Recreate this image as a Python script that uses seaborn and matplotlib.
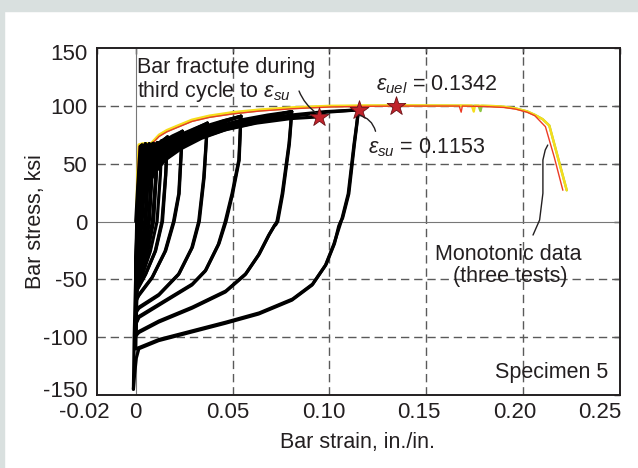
import numpy as np
import pandas as pd
import matplotlib
matplotlib.use("Agg")
import matplotlib.pyplot as plt
from matplotlib.patches import Rectangle
from matplotlib.transforms import ScaledTranslation
import seaborn as sns

# ---------------- data ----------------
# Monotonic tension tests (three tests)
mono1_strain = [0.0003, 0.0010, 0.0017, 0.0035, 0.0080, 0.0120, 0.0160, 0.0210, 0.0290, 0.0380, 0.0500,
                0.0640, 0.0810, 0.1000, 0.1200, 0.1400, 0.1600, 0.1670, 0.1680, 0.1686, 0.1800, 0.1900,
                0.1960, 0.2020, 0.2060, 0.2115, 0.2160, 0.2205]
mono1_stress = [0, 38, 65, 66.5, 66.5, 73.5, 77.5, 81, 86.5, 90, 93, 95.5, 97.5, 99, 99.6, 99.8, 99.8, 99.8,
                94.5, 99.8, 99.4, 98.6, 97.2, 94.5, 91.5, 82, 56, 27]
mono2_strain = [0.0004, 0.0011, 0.0018, 0.0035, 0.0080, 0.0120, 0.0160, 0.0210, 0.0290, 0.0380, 0.0500,
                0.0640, 0.0810, 0.1000, 0.1200, 0.1400, 0.1600, 0.1770, 0.1780, 0.1786, 0.1850, 0.1900,
                0.1960, 0.2020, 0.2060, 0.2100, 0.2135, 0.2180, 0.2225]
mono2_stress = [0, 38, 65.5, 67, 67, 74, 78, 81.5, 87, 90.5, 93.5, 96, 98, 99.5, 100, 100.2, 100.1, 100,
                95.5, 100, 99.7, 99.2, 97.8, 95.2, 92.2, 88.5, 83, 55, 27]
mono3_strain = [0.0002, 0.0008, 0.0015, 0.0035, 0.0080, 0.0120, 0.0160, 0.0210, 0.0290, 0.0380, 0.0500,
                0.0640, 0.0810, 0.1000, 0.1200, 0.1400, 0.1600, 0.1735, 0.1745, 0.1751, 0.1850, 0.1900,
                0.1960, 0.2020, 0.2060, 0.2100, 0.2135, 0.2180, 0.2225]
mono3_stress = [0, 40, 66.5, 67.5, 67.8, 75, 79, 82.5, 88, 91.5, 94.5, 96.8, 98.7, 100, 100.3, 100.4, 100.3,
                100.2, 95, 100.2, 99.8, 99.2, 97.8, 95.2, 92.2, 88.5, 83, 55, 27]

# Cyclic test (Specimen 5) - first loading
load0_strain = [0.0000, 0.0012, 0.0023, 0.0032]
load0_stress = [0, 35, 65, 66]

# Unloading branches (tension peak -> compression at zero strain)
unl_a1_strain = [0.0032, 0.0024, 0.0014, 0.0006, 0.0000]
unl_a1_stress = [66, 35, 0, -25, -38]
unl_a2_strain = [0.0032, 0.0025, 0.0016, 0.0008, 0.0002]
unl_a2_stress = [66, 35, 0, -25, -40]
unl_a3_strain = [0.0032, 0.0026, 0.0018, 0.0010, 0.0003]
unl_a3_stress = [66, 35, 0, -25, -42]
unl_b1_strain = [0.0050, 0.0042, 0.0030, 0.0016, 0.0004, 0.0000]
unl_b1_stress = [67, 40, 5, -22, -40, -45]
unl_b2_strain = [0.0050, 0.0043, 0.0032, 0.0018, 0.0006, 0.0001]
unl_b2_stress = [67, 40, 5, -22, -40, -47]
unl_b3_strain = [0.0050, 0.0044, 0.0035, 0.0021, 0.0008, 0.0002]
unl_b3_stress = [67, 40, 5, -22, -40, -48]
unl_c1_strain = [0.0070, 0.0062, 0.0048, 0.0030, 0.0012, 0.0000]
unl_c1_stress = [67, 40, 3, -25, -43, -50]
unl_c2_strain = [0.0070, 0.0063, 0.0050, 0.0033, 0.0014, 0.0001]
unl_c2_stress = [67, 40, 3, -25, -43, -51]
unl_c3_strain = [0.0070, 0.0064, 0.0053, 0.0036, 0.0017, 0.0002]
unl_c3_stress = [67, 40, 3, -25, -43, -52]
unl_d1_strain = [0.0090, 0.0081, 0.0066, 0.0045, 0.0020, 0.0002]
unl_d1_stress = [67.5, 40, 2, -25, -45, -52]
unl_d2_strain = [0.0090, 0.0082, 0.0068, 0.0048, 0.0022, 0.0003]
unl_d2_stress = [67.5, 40, 2, -25, -45, -53]
unl_d3_strain = [0.0090, 0.0084, 0.0071, 0.0051, 0.0025, 0.0004]
unl_d3_stress = [67.5, 40, 2, -25, -45, -54]
unl_e1_strain = [0.0112, 0.0104, 0.0086, 0.0052, 0.0020, 0.0003]
unl_e1_stress = [68, 40, 0, -28, -46, -54]
unl_e2_strain = [0.0112, 0.0105, 0.0089, 0.0056, 0.0023, 0.0004]
unl_e2_stress = [68, 40, 0, -28, -46, -55]
unl_e3_strain = [0.0112, 0.0106, 0.0092, 0.0060, 0.0026, 0.0005]
unl_e3_stress = [68, 40, 0, -28, -46, -56]
unl_m1_strain = [0.0135, 0.0127, 0.0110, 0.0075, 0.0035, 0.0006, 0.0000]
unl_m1_stress = [70, 40, 0, -26, -46, -57, -58]
unl_f1_strain = [0.0164, 0.0155, 0.0138, 0.0103, 0.0052, 0.0009, 0.0000]
unl_f1_stress = [73, 40, 0, -25, -45, -58, -62]
unl_f2_strain = [0.0164, 0.0154, 0.0135, 0.0100, 0.0050, 0.0008, 0.0000]
unl_f2_stress = [73, 40, 0, -26, -46, -59, -63]
unl_g1_strain = [0.0241, 0.0232, 0.0224, 0.0198, 0.0155, 0.0086, 0.0017, 0.0000]
unl_g1_stress = [78, 50, 24, 0, -25, -48, -63, -68]
unl_g2_strain = [0.0241, 0.0231, 0.0222, 0.0195, 0.0151, 0.0083, 0.0016, 0.0000]
unl_g2_stress = [78, 50, 24, 0, -26, -49, -64, -69]
unl_h1_strain = [0.0370, 0.0361, 0.0353, 0.0328, 0.0293, 0.0224, 0.0120, 0.0017, 0.0000]
unl_h1_stress = [85, 60, 38, 0, -22, -45, -63, -74, -78]
unl_h2_strain = [0.0370, 0.0360, 0.0351, 0.0325, 0.0289, 0.0220, 0.0117, 0.0016, 0.0000]
unl_h2_stress = [85, 60, 38, 0, -23, -46, -64, -75, -79]
unl_i1_strain = [0.0543, 0.0538, 0.0534, 0.0500, 0.0466, 0.0430, 0.0362, 0.0293, 0.0155, 0.0017, 0.0000]
unl_i1_stress = [91, 70, 53, 24, 0, -19, -42, -54, -68, -82, -88]
unl_i2_strain = [0.0543, 0.0537, 0.0532, 0.0497, 0.0462, 0.0426, 0.0358, 0.0289, 0.0152, 0.0016, 0.0000]
unl_i2_stress = [91, 70, 53, 24, 0, -20, -43, -55, -69, -83, -89]
unl_j1_strain = [0.0805, 0.0799, 0.0793, 0.0759, 0.0733, 0.0722, 0.0718, 0.0690, 0.0638, 0.0569, 0.0466,
                 0.0293, 0.0120, 0.0017, 0.0000]
unl_j1_stress = [95, 80, 67, 24, 0, -3, -3, -11, -28, -45, -60, -74, -86, -95, -98]
unl_j2_strain = [0.0805, 0.0798, 0.0791, 0.0756, 0.0729, 0.0686, 0.0634, 0.0565, 0.0462, 0.0290, 0.0118,
                 0.0016, 0.0000]
unl_j2_stress = [95, 80, 67, 24, 0, -12, -29, -46, -61, -75, -87, -96, -99]
unl_k1_strain = [0.1150, 0.1140, 0.1129, 0.1100, 0.1068, 0.1058, 0.1048, 0.1026, 0.0983, 0.0914, 0.0810,
                 0.0638, 0.0466, 0.0293, 0.0120, 0.0017, 0.0000]
unl_k1_stress = [96.5, 82, 67, 24, 3, 0, -4, -19, -37, -54, -67, -79, -87, -94.5, -102, -109, -110]
unl_k2_strain = [0.1150, 0.1139, 0.1127, 0.1097, 0.1064, 0.1022, 0.0979, 0.0910, 0.0806, 0.0634, 0.0462,
                 0.0290, 0.0118, 0.0016, 0.0003, -0.0006, -0.0012]
unl_k2_stress = [96.5, 82, 67, 24, 2, -20, -38, -55, -68, -80, -88, -95.5, -103, -110, -118, -132, -145]

# Reloading branches (compression at zero strain -> tension peak)
rel_b1_strain = [0.0000, 0.0004, 0.0010, 0.0020, 0.0032, 0.0042, 0.0050]
rel_b1_stress = [-38, -8, 22, 46, 60, 65, 67]
rel_b2_strain = [0.0001, 0.0005, 0.0012, 0.0022, 0.0034, 0.0043, 0.0050]
rel_b2_stress = [-40, -10, 20, 44, 59, 65, 67]
rel_b3_strain = [0.0002, 0.0006, 0.0014, 0.0025, 0.0036, 0.0044, 0.0050]
rel_b3_stress = [-42, -10, 20, 43, 58, 65, 67]
rel_c1_strain = [0.0000, 0.0005, 0.0012, 0.0025, 0.0040, 0.0055, 0.0070]
rel_c1_stress = [-45, -12, 18, 42, 57, 64, 67]
rel_c2_strain = [0.0001, 0.0006, 0.0014, 0.0027, 0.0042, 0.0057, 0.0070]
rel_c2_stress = [-47, -12, 18, 41, 56, 64, 67]
rel_c3_strain = [0.0002, 0.0007, 0.0016, 0.0030, 0.0045, 0.0059, 0.0070]
rel_c3_stress = [-48, -12, 18, 40, 55, 63, 67]
rel_d1_strain = [0.0000, 0.0005, 0.0013, 0.0028, 0.0045, 0.0065, 0.0090]
rel_d1_stress = [-50, -15, 15, 40, 55, 63, 67.5]
rel_d2_strain = [0.0001, 0.0006, 0.0015, 0.0030, 0.0048, 0.0068, 0.0090]
rel_d2_stress = [-51, -14, 15, 39, 54, 63, 67.5]
rel_d3_strain = [0.0002, 0.0007, 0.0017, 0.0033, 0.0051, 0.0070, 0.0090]
rel_d3_stress = [-52, -14, 15, 38, 53, 62, 67.5]
rel_e1_strain = [0.0002, 0.0006, 0.0015, 0.0030, 0.0050, 0.0075, 0.0112]
rel_e1_stress = [-52, -15, 14, 38, 53, 62, 68]
rel_e2_strain = [0.0003, 0.0007, 0.0017, 0.0033, 0.0053, 0.0078, 0.0112]
rel_e2_stress = [-53, -15, 14, 37, 52, 62, 68]
rel_e3_strain = [0.0004, 0.0008, 0.0019, 0.0036, 0.0057, 0.0082, 0.0112]
rel_e3_stress = [-54, -15, 14, 36, 51, 61, 68]
rel_m1_strain = [0.0005, 0.0009, 0.0020, 0.0038, 0.0062, 0.0092, 0.0135]
rel_m1_stress = [-56, -16, 13, 36, 51, 62, 70]
rel_f1_strain = [0.0003, 0.0007, 0.0016, 0.0032, 0.0055, 0.0085, 0.0120, 0.0164]
rel_f1_stress = [-54, -18, 12, 36, 52, 62, 68, 73]
rel_f2_strain = [0.0000, 0.0005, 0.0014, 0.0030, 0.0052, 0.0082, 0.0118, 0.0164]
rel_f2_stress = [-62, -24, 8, 34, 50, 60, 67, 73]
rel_f3_strain = [0.0004, 0.0009, 0.0019, 0.0036, 0.0060, 0.0090, 0.0125, 0.0164]
rel_f3_stress = [-55, -18, 12, 35, 50, 61, 67, 73]
rel_g1_strain = [0.0000, 0.0006, 0.0016, 0.0034, 0.0060, 0.0095, 0.0140, 0.0190, 0.0241]
rel_g1_stress = [-62, -22, 10, 36, 52, 62, 69, 74, 78]
rel_g2_strain = [0.0000, 0.0006, 0.0017, 0.0036, 0.0064, 0.0100, 0.0146, 0.0195, 0.0241]
rel_g2_stress = [-68, -26, 6, 33, 49, 60, 68, 73, 78]
rel_g3_strain = [0.0000, 0.0007, 0.0018, 0.0038, 0.0068, 0.0105, 0.0152, 0.0200, 0.0241]
rel_g3_stress = [-69, -25, 5, 31, 47, 58, 66, 72, 78]
rel_h1_strain = [0.0000, 0.0006, 0.0017, 0.0038, 0.0070, 0.0110, 0.0165, 0.0230, 0.0300, 0.0370]
rel_h1_stress = [-68, -25, 8, 32, 46, 56, 66, 75, 80, 85]
rel_h2_strain = [0.0000, 0.0006, 0.0018, 0.0040, 0.0075, 0.0118, 0.0175, 0.0240, 0.0305, 0.0370]
rel_h2_stress = [-78, -30, 5, 30, 45, 55, 65, 74, 80, 85]
rel_h3_strain = [0.0000, 0.0007, 0.0019, 0.0042, 0.0080, 0.0125, 0.0182, 0.0248, 0.0310, 0.0370]
rel_h3_stress = [-79, -29, 4, 29, 44, 54, 64, 73, 79, 85]
rel_i1_strain = [0.0000, 0.0006, 0.0018, 0.0040, 0.0078, 0.0125, 0.0190, 0.0265, 0.0350, 0.0450, 0.0543]
rel_i1_stress = [-78, -30, 5, 30, 45, 56, 66, 75, 82, 87, 91]
rel_i2_strain = [0.0000, 0.0007, 0.0019, 0.0042, 0.0082, 0.0132, 0.0198, 0.0272, 0.0358, 0.0455, 0.0543]
rel_i2_stress = [-88, -35, 3, 28, 44, 55, 65, 74, 81, 87, 91]
rel_i3_strain = [0.0000, 0.0008, 0.0020, 0.0044, 0.0086, 0.0138, 0.0205, 0.0280, 0.0365, 0.0460, 0.0543]
rel_i3_stress = [-89, -34, 2, 27, 43, 54, 64, 73, 80, 86, 91]
rel_j1_strain = [0.0000, 0.0007, 0.0019, 0.0042, 0.0082, 0.0135, 0.0210, 0.0305, 0.0420, 0.0550, 0.0680, 0.0805]
rel_j1_stress = [-88, -35, 3, 29, 44, 55, 65, 74, 82, 88, 92, 95]
rel_j2_strain = [0.0000, 0.0007, 0.0020, 0.0044, 0.0087, 0.0142, 0.0218, 0.0312, 0.0428, 0.0558, 0.0685, 0.0805]
rel_j2_stress = [-98, -40, 0, 27, 43, 54, 64, 73, 81, 87, 91, 95]
rel_j3_strain = [0.0000, 0.0008, 0.0021, 0.0046, 0.0092, 0.0148, 0.0225, 0.0320, 0.0435, 0.0565, 0.0690, 0.0805]
rel_j3_stress = [-99, -38, -1, 25, 41, 53, 63, 72, 80, 86, 91, 95]
rel_k1_strain = [0.0000, 0.0007, 0.0020, 0.0044, 0.0088, 0.0145, 0.0230, 0.0335, 0.0470, 0.0630, 0.0800,
                 0.0980, 0.1150]
rel_k1_stress = [-98, -40, 0, 27, 43, 55, 65, 74, 82, 88, 92, 95, 96.5]
rel_k2_strain = [0.0000, 0.0008, 0.0021, 0.0046, 0.0092, 0.0150, 0.0235, 0.0340, 0.0475, 0.0635, 0.0805,
                 0.0985, 0.1150]
rel_k2_stress = [-110, -44, -2, 25, 41, 53, 63, 72, 80, 86, 91, 94.5, 96.5]
rel_k3_strain = [-0.0012, -0.0008, 0.0000, 0.0012, 0.0032, 0.0065, 0.0120, 0.0200, 0.0310, 0.0455, 0.0620,
                 0.0800, 0.0948]
rel_k3_stress = [-145, -100, -45, -5, 21, 38, 51, 62, 71, 79, 85, 89, 90.5]

# Marked points (stars)
star_strain = [0.0948, 0.1153, 0.1342]
star_stress = [90, 96, 100]

x_ticks = [-0.02, 0, 0.05, 0.10, 0.15, 0.20, 0.25]
x_tick_labels = ["-0.02", "0", "0.05", "0.10", "0.15", "0.20", "0.25"]
y_ticks = [-150, -100, -50, 0, 50, 100, 150]
y_tick_labels = ["-150", "-100", "-50", "0", "50", "100", "150"]

# ---------------- build tables ----------------
cyc_branches = [
    ("l0", load0_strain, load0_stress),
    ("ua1", unl_a1_strain, unl_a1_stress), ("ua2", unl_a2_strain, unl_a2_stress),
    ("ua3", unl_a3_strain, unl_a3_stress),
    ("ub1", unl_b1_strain, unl_b1_stress), ("ub2", unl_b2_strain, unl_b2_stress),
    ("ub3", unl_b3_strain, unl_b3_stress),
    ("uc1", unl_c1_strain, unl_c1_stress), ("uc2", unl_c2_strain, unl_c2_stress),
    ("uc3", unl_c3_strain, unl_c3_stress),
    ("ud1", unl_d1_strain, unl_d1_stress), ("ud2", unl_d2_strain, unl_d2_stress),
    ("ud3", unl_d3_strain, unl_d3_stress),
    ("ue1", unl_e1_strain, unl_e1_stress), ("ue2", unl_e2_strain, unl_e2_stress),
    ("ue3", unl_e3_strain, unl_e3_stress),
    ("um1", unl_m1_strain, unl_m1_stress),
    ("uf1", unl_f1_strain, unl_f1_stress), ("uf2", unl_f2_strain, unl_f2_stress),
    ("ug1", unl_g1_strain, unl_g1_stress), ("ug2", unl_g2_strain, unl_g2_stress),
    ("uh1", unl_h1_strain, unl_h1_stress), ("uh2", unl_h2_strain, unl_h2_stress),
    ("ui1", unl_i1_strain, unl_i1_stress), ("ui2", unl_i2_strain, unl_i2_stress),
    ("uj1", unl_j1_strain, unl_j1_stress), ("uj2", unl_j2_strain, unl_j2_stress),
    ("uk1", unl_k1_strain, unl_k1_stress), ("uk2", unl_k2_strain, unl_k2_stress),
    ("rb1", rel_b1_strain, rel_b1_stress), ("rb2", rel_b2_strain, rel_b2_stress),
    ("rb3", rel_b3_strain, rel_b3_stress),
    ("rc1", rel_c1_strain, rel_c1_stress), ("rc2", rel_c2_strain, rel_c2_stress),
    ("rc3", rel_c3_strain, rel_c3_stress),
    ("rd1", rel_d1_strain, rel_d1_stress), ("rd2", rel_d2_strain, rel_d2_stress),
    ("rd3", rel_d3_strain, rel_d3_stress),
    ("re1", rel_e1_strain, rel_e1_stress), ("re2", rel_e2_strain, rel_e2_stress),
    ("re3", rel_e3_strain, rel_e3_stress),
    ("rm1", rel_m1_strain, rel_m1_stress),
    ("rf1", rel_f1_strain, rel_f1_stress), ("rf2", rel_f2_strain, rel_f2_stress),
    ("rf3", rel_f3_strain, rel_f3_stress),
    ("rg1", rel_g1_strain, rel_g1_stress), ("rg2", rel_g2_strain, rel_g2_stress),
    ("rg3", rel_g3_strain, rel_g3_stress),
    ("rh1", rel_h1_strain, rel_h1_stress), ("rh2", rel_h2_strain, rel_h2_stress),
    ("rh3", rel_h3_strain, rel_h3_stress),
    ("ri1", rel_i1_strain, rel_i1_stress), ("ri2", rel_i2_strain, rel_i2_stress),
    ("ri3", rel_i3_strain, rel_i3_stress),
    ("rj1", rel_j1_strain, rel_j1_stress), ("rj2", rel_j2_strain, rel_j2_stress),
    ("rj3", rel_j3_strain, rel_j3_stress),
    ("rk1", rel_k1_strain, rel_k1_stress), ("rk2", rel_k2_strain, rel_k2_stress),
    ("rk3", rel_k3_strain, rel_k3_stress),
]
cyc = pd.concat([pd.DataFrame({"strain": xs, "stress": ys, "branch": name})
                 for name, xs, ys in cyc_branches], ignore_index=True)
mono = pd.concat([
    pd.DataFrame({"strain": mono2_strain, "stress": mono2_stress, "test": "Test 2"}),
    pd.DataFrame({"strain": mono3_strain, "stress": mono3_stress, "test": "Test 3"}),
], ignore_index=True)
mono_red = pd.DataFrame({"strain": mono1_strain, "stress": mono1_stress, "test": "Test 1"})
stars = pd.DataFrame({"strain": star_strain, "stress": star_stress})

# ---------------- style ----------------
sns.set_style("white")
plt.rcParams["font.family"] = ["Liberation Sans", "DejaVu Sans"]
plt.rcParams["mathtext.fontset"] = "custom"
plt.rcParams["mathtext.rm"] = "Liberation Sans"
plt.rcParams["mathtext.it"] = "Liberation Sans:italic"
plt.rcParams["mathtext.default"] = "it"

W, H = 638, 468
fig = plt.figure(figsize=(W / 100, H / 100), dpi=100, facecolor="white")
fig.add_artist(Rectangle((0, 1 - 11 / H), 1, 11 / H, transform=fig.transFigure,
                         color="#d9e0df", zorder=-10))
fig.add_artist(Rectangle((0, 0), 4 / W, 1, transform=fig.transFigure,
                         color="#d9e0df", zorder=-10))

L, R, T, B = 97, 620, 48, 395
ax = fig.add_axes([L / W, 1 - B / H, (R - L) / W, (B - T) / H])
ax.set_facecolor("white")

# grid
for gx in [0.05, 0.10, 0.15, 0.20]:
    ax.axvline(gx, color="#5a5a5a", lw=1.0, ls=(0, (6, 3.5)), zorder=1)
for gy in [-100, -50, 50, 100]:
    ax.axhline(gy, color="#5a5a5a", lw=1.0, ls=(0, (6, 3.5)), zorder=1)
ax.axvline(0, color="#777777", lw=0.8, zorder=1)
ax.axhline(0, color="#777777", lw=0.8, zorder=1)

# monotonic curves
sns.lineplot(data=mono, x="strain", y="stress", hue="test", units="test", estimator=None, sort=False,
             palette=["#8dc63f", "#f6dd1c"], lw=1.7, legend=False, ax=ax, zorder=3)
sns.lineplot(data=mono_red, x="strain", y="stress", estimator=None, sort=False,
             color="#ec3b25", lw=1.0, legend=False, ax=ax, zorder=3)
# cyclic curves
sns.lineplot(data=cyc, x="strain", y="stress", units="branch", estimator=None, sort=False,
             color="black", lw=2.3, legend=False, ax=ax, zorder=4)
# stars
sns.scatterplot(data=stars, x="strain", y="stress", marker="*", s=200, color="#c1232b",
                edgecolor="#6b1015", linewidth=0.6, ax=ax, zorder=6)

ax.set_xlim(-0.02, 0.25)
ax.set_ylim(-150, 150)
ax.set_xticks(x_ticks)
ax.set_xticklabels(x_tick_labels)
ax.set_yticks(y_ticks)
ax.set_yticklabels(y_tick_labels)
ax.tick_params(direction="in", length=4, width=1, labelsize=16, top=True, right=True,
               colors="#231f20")
ax.tick_params(axis="y", pad=7)
ax.tick_params(axis="x", pad=5)
ax.set_xlabel("")
ax.set_ylabel("")
# the outermost labels sit inside the frame in the reference
x_label_shift_px = [-13, 0, -5, -6, -7, -8, -20]
for lab, dx in zip(ax.get_xticklabels(), x_label_shift_px):
    lab.set_transform(lab.get_transform() + ScaledTranslation(dx / 100, 0, fig.dpi_scale_trans))
y_label_shift_px = [6, 0, 0, 0, 0, 0, -4]
for lab, dy in zip(ax.get_yticklabels(), y_label_shift_px):
    lab.set_transform(lab.get_transform() + ScaledTranslation(0, dy / 100, fig.dpi_scale_trans))
for sp in ax.spines.values():
    sp.set_color("#231f20")
    sp.set_linewidth(1.4)
    sp.set_visible(True)

fs = 15.5
fig.text(358 / W, 1 - 448 / H, "Bar strain, in./in.", ha="center", va="baseline",
         fontsize=fs, color="#231f20")
fig.text(36 / W, 1 - 222 / H, "Bar stress, ksi", ha="center", va="center", rotation=90,
         fontsize=fs, color="#231f20")

tc = "#231f20"
ax.text(0.0007, 128.6, "Bar fracture during", fontsize=fs, color=tc, va="baseline", zorder=7)
ax.text(0.0007, 107.9, r"third cycle to $\varepsilon_{su}$", fontsize=fs, color=tc,
        va="baseline", zorder=7)
ax.text(0.1240, 113.7, r"$\varepsilon_{uel}$ = 0.1342", fontsize=fs, color=tc, va="baseline", zorder=7)
ax.text(0.1199, 59.2, r"$\varepsilon_{su}$ = 0.1153", fontsize=fs, color=tc, va="baseline", zorder=7)
ax.text(0.1922, -33.3, "Monotonic data", fontsize=fs, color=tc, va="baseline", ha="center", zorder=7)
ax.text(0.1933, -52.0, "(three tests)", fontsize=fs, color=tc, va="baseline", ha="center", zorder=7)
ax.text(0.2438, -135.7, "Specimen 5", fontsize=fs, color=tc, va="baseline", ha="right", zorder=7)

# leader lines
ax.annotate("", xy=(0.0935, 93.5), xytext=(0.0843, 112.8),
            arrowprops=dict(arrowstyle="-", color=tc, lw=1.0, shrinkA=0, shrinkB=0,
                            connectionstyle="arc3,rad=0.15"), zorder=7)
ax.annotate("", xy=(0.1238, 78.0), xytext=(0.1150, 92.0),
            arrowprops=dict(arrowstyle="-", color=tc, lw=1.0, shrinkA=0, shrinkB=0,
                            connectionstyle="arc3,rad=-0.3"), zorder=7)
lead_x = [0.2051, 0.2085, 0.2102, 0.2102, 0.2114, 0.2127]
lead_y = [-11.7, 1.3, 24.4, 53.2, 61.8, 66.1]
ax.plot(lead_x, lead_y, color=tc, lw=1.0, zorder=7)

fig.savefig("out.png", dpi=100, facecolor="white")
